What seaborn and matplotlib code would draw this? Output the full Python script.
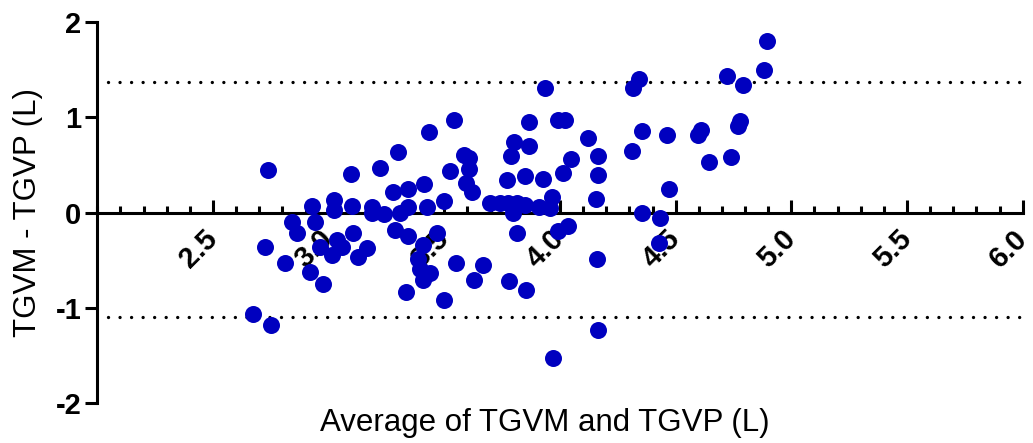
import numpy as np
import pandas as pd
import matplotlib
matplotlib.use("Agg")
import matplotlib.pyplot as plt
import seaborn as sns
from matplotlib.ticker import MultipleLocator, FixedLocator

# Bland-Altman: media x diferenca
avg_tgv = [2.672, 2.750, 2.739, 2.725, 2.840, 2.862, 2.812, 2.920, 2.928, 2.941,
           2.963, 2.975, 3.013, 3.035, 3.057, 3.023, 3.025, 3.102, 3.105, 3.126,
           3.165, 3.189, 3.186, 3.241, 3.287, 3.309, 3.342, 3.342, 3.335, 3.407,
           3.097, 3.222, 3.299, 3.280, 3.342, 3.414, 3.435, 3.543, 3.525, 3.587,
           3.608, 3.608, 3.594, 3.619, 3.500, 3.427, 3.388, 3.395, 3.438, 3.409,
           3.467, 3.551, 3.669, 3.630, 3.499, 3.780, 3.853, 3.813, 3.799, 3.698,
           3.741, 3.776, 3.813, 3.849, 3.911, 3.957, 3.965, 3.993, 4.034, 3.936,
           3.864, 3.993, 4.022, 4.119, 3.802, 3.866, 3.787, 4.047, 4.166, 4.012,
           4.166, 3.770, 3.849, 3.926, 4.156, 4.159, 4.166, 3.971, 4.894, 4.882,
           4.721, 4.789, 4.342, 4.317, 4.776, 4.771, 4.610, 4.598, 4.354, 4.462,
           4.310, 4.642, 4.740, 4.472, 4.354, 4.433, 4.430]
diff_tgv = [-1.06, -1.18, 0.45, -0.36, -0.10, -0.21, -0.53, -0.62, 0.07, -0.10,
            -0.36, -0.75, -0.45, -0.29, -0.36, 0.13, 0.03, 0.07, -0.21, -0.47,
            -0.37, 0.06, -0.01, -0.02, -0.18, 0.00, -0.25, 0.06, -0.83, -0.34,
            0.40, 0.47, 0.63, 0.22, 0.25, 0.30, 0.84, 0.97, 0.44, 0.60,
            0.57, 0.46, 0.31, 0.22, 0.12, 0.06, -0.49, -0.59, -0.63, -0.71,
            -0.22, -0.53, -0.55, -0.71, -0.92, -0.72, -0.81, -0.21, -0.01, 0.10,
            0.10, 0.10, 0.10, 0.08, 0.06, 0.05, 0.16, -0.19, -0.14, 1.31,
            0.95, 0.97, 0.97, 0.78, 0.74, 0.70, 0.59, 0.56, 0.59, 0.41,
            0.39, 0.34, 0.38, 0.35, 0.14, -0.49, -1.23, -1.53, 1.80, 1.49,
            1.43, 1.34, 1.40, 1.31, 0.96, 0.91, 0.86, 0.81, 0.85, 0.81,
            0.64, 0.53, 0.58, 0.25, -0.01, -0.06, -0.32]

# limites de concordancia (linhas pontilhadas)
loa_upper = 1.37
loa_lower = -1.10

x_major_ticks = [2.5, 3.0, 3.5, 4.0, 4.5, 5.0, 5.5, 6.0]
x_tick_labels = ['2.5', '3.0', '3.5', '4.0', '4.5', '5.0', '5.5', '6.0']
y_major_ticks = [-2, -1, 0, 1, 2]
y_tick_labels = ['-2', '-1', '0', '1', '2']

df = pd.DataFrame({'media': avg_tgv, 'diferenca': diff_tgv})

sns.set_style('ticks')
plt.rcParams['font.family'] = ['Liberation Sans', 'DejaVu Sans']
plt.rcParams['text.color'] = 'black'
plt.rcParams['axes.labelcolor'] = 'black'
plt.rcParams['axes.edgecolor'] = 'black'
plt.rcParams['xtick.color'] = 'black'
plt.rcParams['ytick.color'] = 'black'

fig = plt.figure(figsize=(10.33, 4.43), dpi=100)
ax = fig.add_axes([0.0942, 0.0896, 0.8958, 0.8614])

# linhas de limite
for y in (loa_upper, loa_lower):
    ax.hlines(y, 2.046, 6.0, colors='black', linewidth=2.4,
              linestyles=(0, (0.01, 3.45)), capstyle='round', zorder=1)

sns.scatterplot(data=df, x='media', y='diferenca', ax=ax, color='#0000BF',
                s=150, linewidth=0, zorder=3, legend=False)

ax.set_xlim(2.0, 6.0)
ax.set_ylim(-2, 2)

# eixos no estilo GraphPad
ax.spines['top'].set_visible(False)
ax.spines['right'].set_visible(False)
ax.spines['bottom'].set_position(('data', 0))
ax.spines['bottom'].set_linewidth(2.2)
ax.spines['left'].set_linewidth(2.2)
ax.spines['bottom'].set_zorder(2)

ax.xaxis.set_major_locator(FixedLocator(x_major_ticks))
ax.xaxis.set_minor_locator(MultipleLocator(0.1))
ax.set_xticklabels(x_tick_labels, fontsize=21, fontweight='bold',
                   rotation=45, ha='right', va='center', rotation_mode='anchor')
ax.tick_params(axis='x', which='major', direction='in', length=9.5, width=2.2, pad=16)
ax.tick_params(axis='x', which='minor', direction='in', length=5, width=2.2)

ax.set_yticks(y_major_ticks)
ax.set_yticklabels(y_tick_labels, fontsize=21, fontweight='bold')
ax.tick_params(axis='y', which='major', direction='out', length=8.5, width=2.2, pad=3)

ax.set_xlabel('Average of TGVM and TGVP (L)', fontsize=22.5)
ax.xaxis.set_label_coords(0.484, -0.052)
ax.xaxis.label.set_va('center')
ax.set_ylabel('TGVM - TGVP (L)', fontsize=22.5)
ax.yaxis.set_label_coords(-0.075, 0.5)
ax.yaxis.label.set_va('center')

ax.grid(False)

plt.savefig('out.png', dpi=100)
